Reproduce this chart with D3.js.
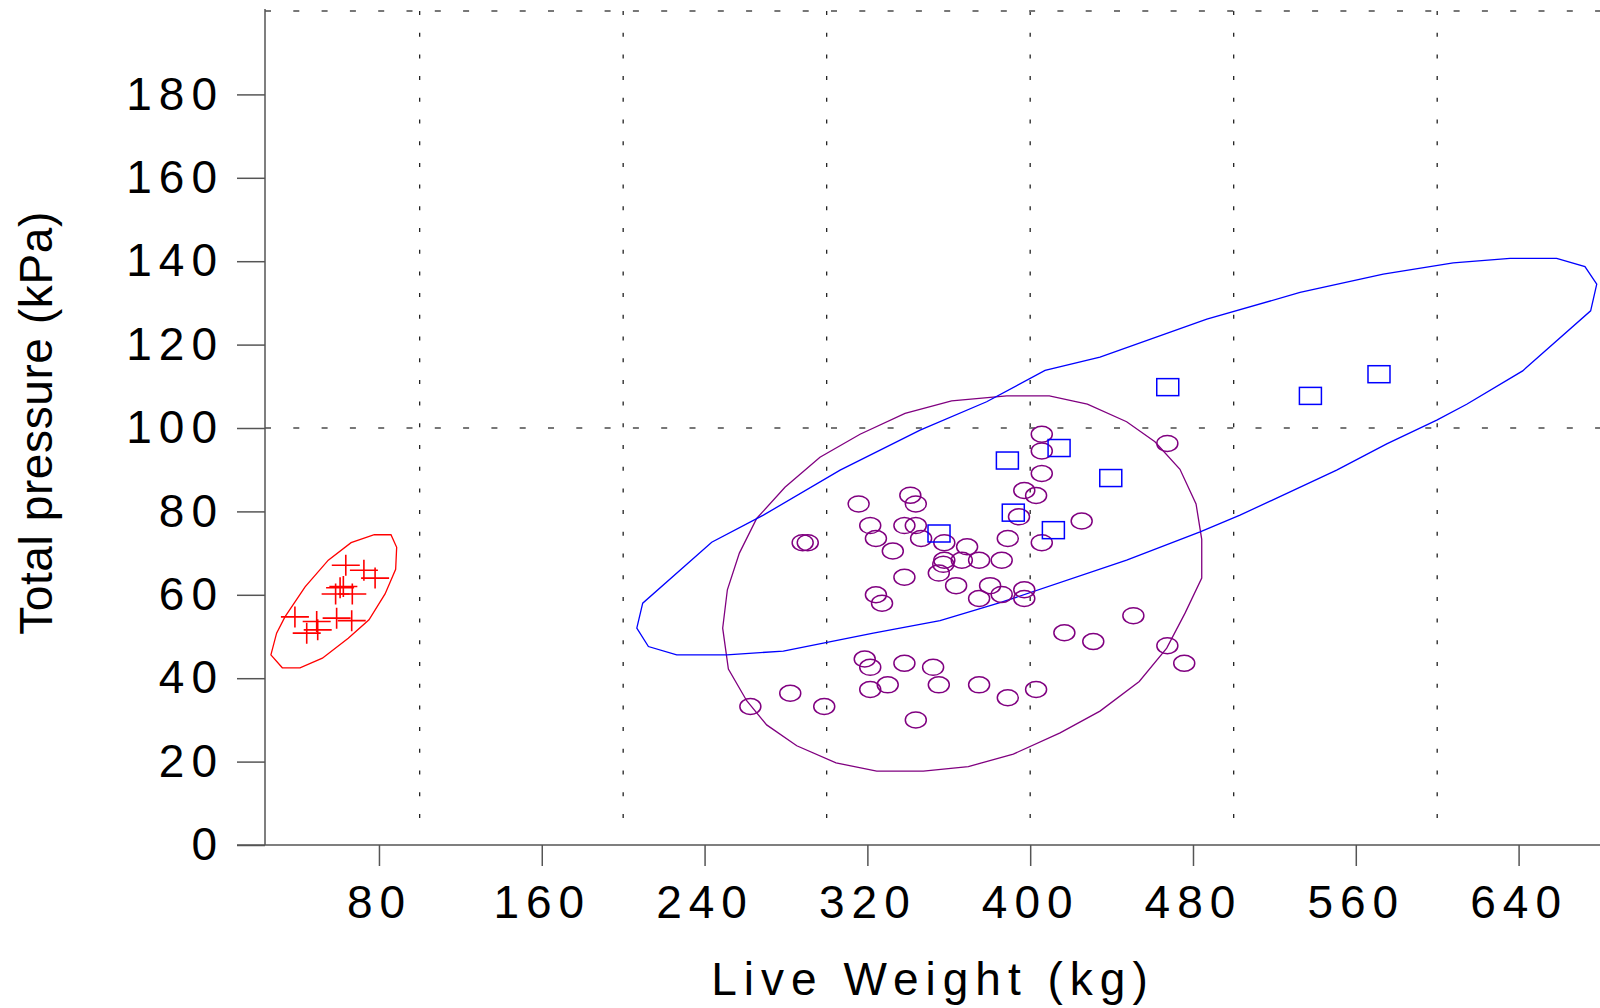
<!DOCTYPE html>
<html>
<head>
<meta charset="utf-8">
<script src="https://cdn.jsdelivr.net/npm/d3@7"></script>
<style>
  body { margin: 0; background: #fff; }
  svg { display: block; }
  text { font-family: "Liberation Sans", Arial, sans-serif; fill: #000; }
</style>
</head>
<body>
<svg id="chart" width="1600" height="1008"></svg>
<script>
// axis ticks and grid
const xTicks = [80, 160, 240, 320, 400, 480, 560, 640];
const yTicks = [0, 20, 40, 60, 80, 100, 120, 140, 160, 180];
const xGrid = [100, 200, 300, 400, 500, 600];
const yGrid = [100, 200];

// red group (crosses) - live weight kg, total pressure kPa
const redPoints = [
    [63.7, 67.1], [72.6, 65.9], [78.1, 64.0], [60.9, 61.7], [58.7, 60.2], [66.9, 60.2],
    [62.5, 62.0], [38.7, 54.7], [59.2, 54.4], [66.6, 53.8], [49.4, 53.6], [44.5, 50.8], [49.9, 51.6]
];
const redHull = [
    [26.9, 45.6], [29.7, 50.8], [33.8, 54.7], [43.7, 61.9], [55.1, 68.3], [66.3, 72.5], [77.7, 74.4],
    [85.9, 74.4], [88.7, 71.4], [88.2, 66.1], [83.0, 60.2], [75.1, 54.0], [64.9, 49.6], [52.2, 44.8],
    [41.2, 42.5], [32.5, 42.5]
];

// purple group (circles)
const purplePoints = [
    [397.1, 85.0], [341.1, 83.9], [343.8, 81.8], [315.7, 81.8], [321.4, 76.6], [338.2, 76.6],
    [343.8, 76.6], [324.2, 73.5], [346.4, 73.5], [357.8, 72.5], [389.0, 73.5], [394.5, 78.7],
    [332.5, 70.5], [369.0, 71.5], [288.2, 72.5], [290.7, 72.5], [357.8, 68.3], [366.4, 68.3],
    [374.9, 68.3], [386.0, 68.3], [357.3, 67.3], [355.1, 65.2], [338.2, 64.2], [363.6, 62.2],
    [380.3, 62.2], [386.0, 60.1], [374.9, 59.1], [397.1, 61.2], [397.1, 59.1], [324.2, 60.0],
    [327.2, 58.0], [318.7, 44.6], [321.4, 42.6], [338.2, 43.6], [352.3, 42.6], [321.4, 37.3],
    [330.0, 38.4], [355.1, 38.4], [374.9, 38.4], [389.0, 35.3], [282.1, 36.4], [262.5, 33.2],
    [298.8, 33.2], [343.8, 30.0], [405.7, 98.5], [405.7, 94.5], [405.7, 89.1], [402.9, 83.8],
    [425.3, 77.7], [405.7, 72.5], [450.7, 55.0], [416.8, 50.9], [431.0, 48.8], [467.4, 96.3],
    [467.4, 47.8], [475.7, 43.6], [402.9, 37.3]
];
const purpleHull = [
    [361.4, 106.5], [388.5, 107.7], [409.4, 107.7], [428.1, 105.7], [447.4, 101.5], [461.3, 96.7],
    [473.6, 90.1], [481.5, 81.8], [484.3, 73.3], [484.3, 64.0], [476.1, 55.6], [467.1, 47.2],
    [453.6, 39.2], [434.3, 32.1], [414.7, 26.9], [391.7, 21.8], [369.6, 18.8], [347.5, 17.7],
    [324.6, 17.7], [304.6, 19.7], [285.3, 23.8], [270.5, 28.8], [260.7, 34.6], [251.7, 42.2],
    [248.9, 52.0], [251.2, 61.2], [257.1, 70.0], [265.6, 78.3], [279.5, 85.8], [296.7, 93.0],
    [316.4, 98.5], [338.5, 103.5]
];

// blue group (squares)
const bluePoints = [
    [388.8, 92.2], [391.7, 79.7], [355.2, 74.7], [414.2, 95.2], [439.6, 88.0],
    [411.4, 75.5], [467.6, 109.8], [537.7, 107.7], [571.4, 112.9]
];
const blueHull = [
    [206.7, 52.0], [209.6, 58.0], [243.5, 72.6], [268.9, 79.1], [306.6, 89.9], [345.9, 99.5],
    [378.6, 106.3], [407.3, 113.8], [434.3, 117.0], [486.8, 126.1], [532.6, 132.5], [573.5, 136.9],
    [607.9, 139.6], [635.8, 140.7], [658.7, 140.7], [672.6, 138.7], [678.4, 134.5], [675.4, 128.1],
    [642.0, 113.7], [614.5, 105.7], [599.8, 101.9], [575.2, 96.2], [550.6, 89.9], [503.1, 79.1],
    [483.5, 75.1], [447.4, 68.3], [385.2, 58.1], [355.7, 53.8], [322.9, 50.8], [278.7, 46.5],
    [250.9, 45.6], [226.3, 45.6], [212.4, 47.6]
];

const svg = d3.select('#chart');

const x = d3.scaleLinear().domain([24, 680]).range([265, 1600]);
const y = d3.scaleLinear().domain([0, 200]).range([845, 11]);

const axisColor = '#555';

// grid lines
svg.append('g').selectAll('line')
    .data(xGrid)
    .join('line')
    .attr('x1', d => x(d)).attr('x2', d => x(d))
    .attr('y1', y(200)).attr('y2', y(4))
    .attr('stroke', '#222')
    .attr('stroke-width', 1.3)
    .attr('stroke-dasharray', '4,17.7');

svg.append('g').selectAll('line')
    .data(yGrid)
    .join('line')
    .attr('x1', x(24)).attr('x2', 1600)
    .attr('y1', d => y(d)).attr('y2', d => y(d))
    .attr('stroke', '#777')
    .attr('stroke-width', 2)
    .attr('stroke-dasharray', '6,22.3');

// axes
const yAxis = svg.append('g')
    .attr('transform', `translate(${x(24)},0)`)
    .call(d3.axisLeft(y).tickValues(yTicks).tickSize(28).tickPadding(13).tickFormat(d3.format('d')));
const xAxis = svg.append('g')
    .attr('transform', `translate(0,${y(0)})`)
    .call(d3.axisBottom(x).tickValues(xTicks).tickSize(21).tickPadding(19).tickFormat(d3.format('d')));

[xAxis, yAxis].forEach(a => {
    a.select('.domain').remove();
    a.selectAll('.tick line').attr('stroke', axisColor).attr('stroke-width', 1.5);
    a.selectAll('.tick text')
        .attr('font-size', 46)
        .attr('font-family', '"Liberation Sans", Arial, sans-serif')
        .attr('letter-spacing', 7)
        .attr('fill', '#000');
});

// axis lines
svg.append('line')
    .attr('x1', x(24)).attr('x2', x(24))
    .attr('y1', y(200) - 2).attr('y2', y(0))
    .attr('stroke', axisColor).attr('stroke-width', 1.5);
svg.append('line')
    .attr('x1', x(24) - 28).attr('x2', 1600)
    .attr('y1', y(0)).attr('y2', y(0))
    .attr('stroke', axisColor).attr('stroke-width', 1.5);

// axis titles
svg.append('text')
    .attr('transform', 'translate(52,423) rotate(-90)')
    .attr('text-anchor', 'middle')
    .attr('font-size', 46)
    .attr('letter-spacing', 0.6)
    .text('Total pressure (kPa)');

svg.append('text')
    .attr('x', 933)
    .attr('y', 995)
    .attr('text-anchor', 'middle')
    .attr('font-size', 46)
    .attr('letter-spacing', 7)
    .text('Live Weight (kg)');

// hulls
let line = d3.line()
    .x(d => x(d[0]))
    .y(d => y(d[1]))
    .curve(d3.curveLinearClosed);

const hulls = [
    {pts: redHull, color: '#ff0000'},
    {pts: purpleHull, color: '#800080'},
    {pts: blueHull, color: '#0000ff'}
];
hulls.forEach(h => {
    svg.append('path')
        .attr('d', line(h.pts))
        .attr('fill', 'none')
        .attr('stroke', h.color)
        .attr('stroke-width', 1.3);
});

// markers
svg.append('g').selectAll('path')
    .data(redPoints)
    .join('path')
    .attr('d', d => {
        let cx = x(d[0]), cy = y(d[1]);
        return `M${cx - 14},${cy}H${cx + 14}M${cx},${cy - 10.5}V${cy + 10.5}`;
    })
    .attr('stroke', '#ff0000')
    .attr('stroke-width', 1.6)
    .attr('fill', 'none');

svg.append('g').selectAll('ellipse')
    .data(purplePoints)
    .join('ellipse')
    .attr('cx', d => x(d[0]))
    .attr('cy', d => y(d[1]))
    .attr('rx', 10.5)
    .attr('ry', 8)
    .attr('fill', 'none')
    .attr('stroke', '#800080')
    .attr('stroke-width', 1.5);

svg.append('g').selectAll('rect')
    .data(bluePoints)
    .join('rect')
    .attr('x', d => x(d[0]) - 11)
    .attr('y', d => y(d[1]) - 8.5)
    .attr('width', 22)
    .attr('height', 17)
    .attr('fill', 'none')
    .attr('stroke', '#0000ff')
    .attr('stroke-width', 1.5);
</script>
</body>
</html>
